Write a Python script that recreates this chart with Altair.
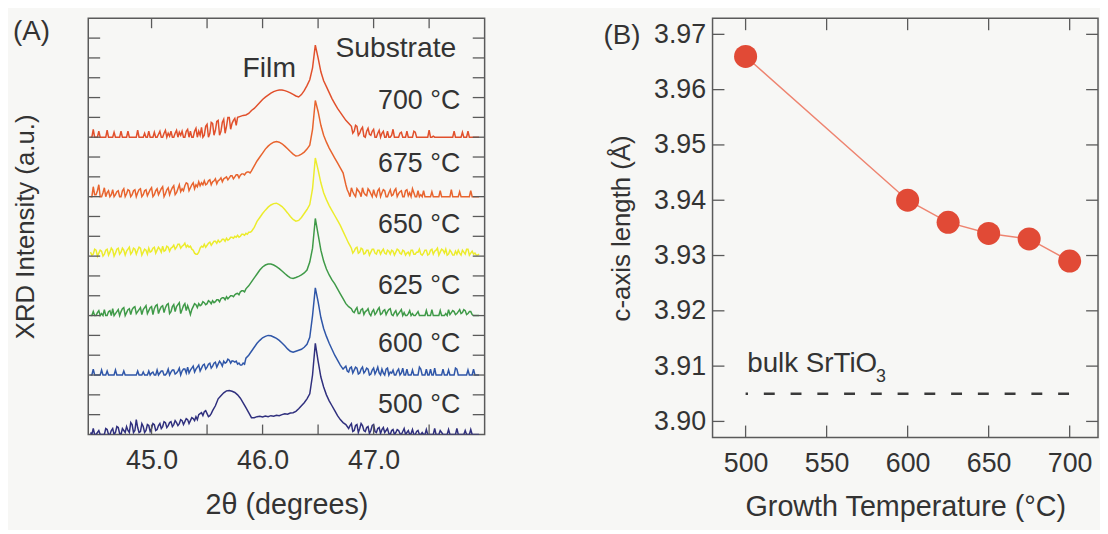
import altair as alt
import pandas as pd

# ---------------- Panel A data (XRD scans, offset stacked) ----------------
# main sampling grid (2θ, degrees) and half-step points used in the noisy stretches
two_theta = [round(44.45 + 0.025 * i, 3) for i in range(141)]
HALF = 0.0125

i700 = ([0,0.4,0,0.3,0,0,0.35,0,0,0,0,0.3,0,0,0,0,0,0.35,0,0] +
        [0,0.3,0,0.25,0,0.3,0,0.35,0.2,0.3,0,0.35,0.25,0.3,0,0.4,0.3,0,0.45,0.3] +
        [0.5,0.1,0.65,0.2,0.7,0.35,0.85,0.3,0.9,0.55,1.0,0.7,0.95,1.0,1.05,1.1,1.12,1.2,1.35,1.45] +
        [1.6,1.75,1.9,2.02,2.12,2.22,2.3,2.35,2.38,2.38,2.35,2.3,2.24,2.16,2.08,2.03,2.15,2.35,2.6,2.9] +
        [3.5,4.65,4.0,3.3,2.85,2.55,2.25,1.95,1.7,1.45,1.25,1.05,0.85,0.7,0.55,0.3,0.55,0.2,0.5,0] +
        [0.45,0.1,0.4,0,0.35,0.2,0,0.3,0,0.4,0,0,0.25,0,0.3,0,0,0.25,0,0] +
        [0,0,0.35,0,0,0,0,0,0,0,0,0.3,0,0,0.25,0,0.3,0,0,0,0])
m700_left = ([0,0,0,0,0,0,0,0,0.25,0, 0,0,0,0.3,0,0,0,0,0,0.2,
              0,0,0,0,0.15,0,0.2,0,0.05,0, 0.2,0,0.1,0,0.3,0,0,0.3,0,0.1,
              0,0.55,0,0.75,0.1,0.8,0.1,0.75,0.2,1.0,0.4,0.85,0.6])
m700_right = ([0.2,0.6,0.1,0.4,0.05,0.3,0.15,0.3,0,0.2, 0,0.3,0,0,0.1,0,0,0.2,0,0,
               0,0,0.3,0,0,0,0,0,0,0.05, 0,0,0,0,0,0,0,0,0,0, 0,0,0,0,0,0])

i675 = ([0,0.5,0.1,0.6,0,0.45,0.2,0,0.35,0.1,0.3,0,0.4,0.15,0.3,0.1,0.35,0.2,0.4,0.1] +
        [0.35,0.2,0.45,0.1,0.4,0.25,0.5,0.15,0.45,0.3,0.55,0.2,0.6,0.4,0.55,0.65,0.45,0.7,0.6,0.75] +
        [0.7,0.8,0.65,0.85,0.75,0.9,0.8,0.95,0.9,1.0,0.95,1.05,1.0,1.1,1.08,1.15,1.2,1.25,1.3,1.55] +
        [1.8,2.0,2.2,2.4,2.55,2.67,2.75,2.78,2.75,2.67,2.55,2.42,2.28,2.15,2.05,2.07,2.15,2.25,2.4,2.6] +
        [3.4,4.85,4.3,3.6,3.1,2.75,2.45,2.2,1.95,1.7,1.45,1.2,0.6,0.2,0.45,0.1,0.4,0.2,0.45,0.1] +
        [0.4,0.15,0.35,0,0.4,0.2,0.3,0,0.35,0.1,0.4,0.15,0.3,0,0.35,0.2,0.4,0,0.3,0.1] +
        [0.3,0,0,0.25,0,0,0.3,0,0,0,0.35,0,0,0.25,0,0,0,0.3,0,0,0])
m675_left = ([0,0.1,0.3,0,0.2,0,0.3,0.1,0,0.25, 0,0.3,0,0.35,0,0.3,0,0.35,0,0.3,
              0.05,0.35,0,0.3,0.1,0.4,0,0.35,0.1,0.45, 0.1,0.4,0.25,0.3,0.7,0.3,0.6,0.4,0.5,0.55,
              0.6,0.6,0.8,0.6,0.8,0.65,0.85,0.75,0.95,0.85, 1.05,0.9,1.1,0.95,1.15,1.1,1.25,1.2])
m675_right = ([0.35,0,0.25,0,0.3,0,0.2,0.05,0.3,0, 0.1,0.3,0,0.35,0,0.2,0.05,0.3,0,0.25,
               0,0.3,0.05,0,0.2,0,0,0,0,0, 0,0,0,0,0,0,0,0,0,0, 0,0,0,0,0,0,0,0])

i650 = ([0.2,0.1,0.3,0.15,0.25,0.1,0.35,0.2,0.3,0.15,0.4,0.2,0.3,0.25,0.45,0.2,0.35,0.3,0.4,0.2] +
        [0.3,0.4,0.25,0.45,0.3,0.35,0.5,0.3,0.45,0.4,0.55,0.45,0.6,0.5,0.65,0.55,0.5,0.3,0.1,0.2] +
        [0.5,0.6,0.55,0.7,0.65,0.75,0.8,0.75,0.85,0.9,0.85,0.95,1.0,1.05,1.0,1.1,1.15,1.2,1.25,1.45] +
        [1.75,1.95,2.15,2.32,2.47,2.58,2.65,2.67,2.6,2.5,2.35,2.18,2.0,1.85,1.76,1.8,1.95,2.15,2.35,2.6] +
        [3.4,4.95,4.35,3.7,3.2,2.85,2.55,2.3,2.05,1.8,1.55,1.25,0.95,0.65,0.4,0.25,0.45,0.2,0.35,0.15] +
        [0.3,0.2,0.35,0.1,0.3,0.25,0.15,0.3,0.1,0.25,0.2,0.3,0.1,0.25,0.15,0.05,0.3,0.1,0.2,0.1] +
        [0.15,0.3,0.1,0.35,0.25,0.4,0.2,0.3,0.35,0.1,0.2,0.05,0.1,0.15,0.3,0.1,0.35,0.15,0.1,0.05,0.1])
m650_left = ([0.05,0.35,0,0.3,0,0.3,0.05,0.4,0,0.35, 0.1,0.4,0.05,0.35,0.1,0.4,0.1,0.45,0.05,0.35,
              0.1,0.2,0.4,0.15,0.45,0.2,0.25,0.5,0.25,0.45, 0.35,0.6,0.4,0.55,0.45,0.45,0.35,0.15,0.1,0.4,
              0.45,0.45,0.65,0.55,0.75,0.65,0.7,0.85,0.75,0.8, 0.95,0.9,0.95,0.95,1.1,1.05,1.1,1.2])
m650_right = ([0.15,0.4,0.15,0.4,0.1,0.3,0.05,0.35,0.15,0.3, 0.1,0.35,0.1,0.25,0.3,0.05,0.35,0.15,0.3,0.05,
               0.2,0.3,0.1,0.2,0.35,0.05,0.3,0.05,0.3,0.1, 0.3,0.05,0.35,0.15,0.05,0.3,0.05,0.25,0.3,0.05,
               0.2,0.35,0.05,0.25,0.15,0.05])

i625 = ([0,0.2,0,0.25,0.1,0.3,0,0.25,0.35,0.1,0.3,0.2,0.4,0.15,0.35,0.3,0.45,0.2,0.4,0.3] +
        [0.5,0.25,0.45,0.35,0.55,0.3,0.5,0.4,0.6,0.2,0.55,0.45,0.65,0.3,0.6,0.5,0.05,0.45,0.55,0.6] +
        [0.55,0.65,0.6,0.7,0.75,0.7,0.8,0.85,0.9,0.95,0.92,1.0,1.05,1.12,1.2,1.25,1.35,1.5,1.7,1.9] +
        [2.1,2.3,2.45,2.55,2.6,2.6,2.55,2.47,2.37,2.25,2.12,2.0,1.9,1.87,1.92,1.98,2.05,2.15,2.3,2.7] +
        [3.4,4.9,4.1,3.3,2.75,2.35,2.05,1.8,1.6,1.35,1.1,0.85,0.6,0.45,0.35,0.15,0.4,0.1,0.35,0.2] +
        [0.35,0,0.3,0.15,0.4,0.1,0.3,0.2,0.35,0,0.25,0.1,0.3,0.15,0,0.25,0.1,0,0.2,0] +
        [0,0.25,0,0.3,0,0,0.25,0,0.1,0.3,0.15,0.2,0.1,0.3,0.15,0.25,0.1,0.2,0,0,0])
m625_left = ([0,0,0.15,0,0,0,0.2,0,0,0.2, 0,0.35,0,0.3,0.05,0.4,0.1,0.3,0.05,0.4,
              0.1,0.4,0.05,0.5,0.1,0.45,0.15,0.55,0.1,0.45, 0.2,0.55,0.1,0.5,0.25,0.3,0.3,0.6,0.4,0.5,
              0.7,0.55,0.75,0.6,0.65,0.8,0.7,0.9,0.8,0.85, 1.0,0.95,1.1,1.05,1.25,1.2])
m625_right = ([0.2,0.3,0.1,0.3,0.05,0.25,0.1,0.2,0.05,0.3, 0.05,0.25,0.05,0.3,0.05,0.15,0,0.2,0,0,
               0.1,0,0,0.1,0,0,0,0,0,0, 0,0,0,0,0,0.05,0.25,0.05,0.2,0.1, 0.3,0.05,0.2,0.05,0,0])

i600 = ([0,0.3,0,0,0.25,0,0.2,0,0,0.25,0,0,0.2,0,0,0,0,0.2,0,0.15] +
        [0,0.2,0.1,0,0.25,0.1,0.2,0,0.3,0.15,0.25,0.1,0.35,0.2,0.3,0.4,0.25,0.45,0.3,0.5] +
        [0.35,0.55,0.4,0.6,0.45,0.65,0.55,0.6,0.7,0.65,0.75,0.72,0.65,0.55,0.5,0.6,0.85,1.0,1.2,1.4] +
        [1.6,1.75,1.88,1.95,2.0,1.98,1.92,1.85,1.75,1.62,1.48,1.32,1.2,1.15,1.2,1.25,1.3,1.4,1.55,1.9] +
        [3.0,4.4,3.7,2.9,2.35,1.95,1.6,1.3,1.0,0.75,0.5,0.3,0.45,0.15,0.4,0.25,0.35,0.1,0.4,0.2] +
        [0.3,0.05,0.35,0.2,0.1,0.3,0,0.35,0.15,0.25,0,0.3,0.1,0,0.3,0,0.25,0,0,0.3] +
        [0,0.3,0,0,0.35,0,0,0.3,0,0.25,0,0,0.3,0,0,0,0.25,0,0.3,0,0])
m600_left = ([0,0,0,0,0,0,0,0,0,0, 0,0,0,0,0,0,0,0,0,0,
              0,0,0.15,0,0,0.2,0,0.1,0,0.25, 0.05,0.2,0,0.3,0.1,0.1,0.35,0.15,0.4,0.2,
              0.5,0.3,0.55,0.35,0.6,0.4,0.7,0.45,0.6,0.8, 0.6,0.7,0.7,0.6,0.5,0.55])
m600_right = ([0.2,0.35,0.1,0.4,0.05,0.3,0.1,0.35,0,0.25, 0.05,0.4,0,0.1,0.3,0,0.1,0,0.2,0,
               0.35,0,0,0,0,0,0.4,0,0,0, 0.3,0,0,0,0,0,0,0,0,0.35, 0,0,0,0,0,0,0,0])

i500 = ([0.1,0.3,0,0.2,0,0,0.25,0,0.3,0.1,0.35,0,0.2,0.4,0.1,0.5,0.2,0.35,0.15,0.4] +
        [0.2,0.45,0.3,0.5,0.25,0.55,0.4,0.6,0.45,0.65,0.5,0.6,0.55,0.7,0.65,0.75,0.7,0.8,0.9,1.0] +
        [1.1,1.15,1.05,0.95,1.2,1.45,1.8,1.95,2.1,2.2,2.22,2.18,2.12,2.0,1.83,1.6,1.35,1.1,0.85,0.85] +
        [0.9,0.92,0.88,0.93,0.9,0.95,0.92,0.97,0.95,1.0,1.05,1.02,1.08,1.1,1.17,1.3,1.45,1.6,1.8,2.05] +
        [3.0,4.6,3.7,2.9,2.4,2.0,1.7,1.45,1.2,0.95,0.75,0.6,0.5,0.3,0.55,0.2,0.5,0.3,0.45,0.15] +
        [0.4,0.2,0.5,0.1,0.35,0.25,0.1,0.3,0,0.25,0.1,0.2,0,0.3,0.1,0,0.25,0,0.2,0] +
        [0,0.25,0,0,0.3,0,0.2,0,0,0.25,0,0,0.3,0,0,0.2,0,0.25,0,0,0])
m500_left = ([0,0,0.1,0,0,0.3,0,0.2,0,0.4, 0.05,0.3,0.1,0.2,0.6,0.1,0.75,0.1,0.55,0.1,
              0.5,0.15,0.55,0.2,0.45,0.3,0.65,0.35,0.6,0.4, 0.7,0.45,0.75,0.5,0.8,0.55,0.85,0.7,0.75,1.05,
              0.95,1.2,0.9,1.05])
m500_right = ([0.45,0.15,0.45,0.1,0.55,0.2,0.35,0.05,0.45,0.15, 0.3,0.05,0.35,0.2,0.05,0.2,0,0.25,0.05,0.15,
               0,0.2,0.05,0,0.15,0,0.1,0,0,0, 0,0,0,0.1,0,0,0,0,0,0, 0,0,0,0,0,0,0])

temps = ["500", "600", "625", "650", "675", "700"]
scans = [i500, i600, i625, i650, i675, i700]
mids = [(m500_left, 0, m500_right, 93), (m600_left, 0, m600_right, 92), (m625_left, 0, m625_right, 94),
        (m650_left, 0, m650_right, 94), (m675_left, 0, m675_right, 92), (m700_left, 0, m700_right, 94)]
offsets = [0, 3, 6, 9, 12, 15]
colors = ["#30307e", "#2f56a8", "#3f9a48", "#ecec2c", "#e8642e", "#e1502c"]
label_y = [1.5, 4.55, 7.5, 10.55, 13.65, 16.8]
label_text = ["500 °C", "600 °C", "625 °C", "650 °C", "675 °C", "700 °C"]

# ---------------- Panel B data ----------------
growth_T = [500, 600, 625, 650, 675, 700]
c_axis = [3.966, 3.940, 3.936, 3.934, 3.933, 3.929]
bulk_sto = 3.905

FONT = "Liberation Sans"
TXT = "#333333"
FRAME = "#5a5a5a"

rows = []
for t, s, off, (ml, sl, mr, sr) in zip(temps, scans, offsets, mids):
    assert len(s) == len(two_theta), (t, len(s))
    assert sr + len(mr) == 140, (t, "right", sr + len(mr))
    for x, v in zip(two_theta, s):
        rows.append({"x": x, "y": v + off, "temp": t})
    for j, v in enumerate(ml):
        rows.append({"x": round(two_theta[sl + j] + HALF, 4), "y": v + off, "temp": t})
    for j, v in enumerate(mr):
        rows.append({"x": round(two_theta[sr + j] + HALF, 4), "y": v + off, "temp": t})
dfA = pd.DataFrame(rows).sort_values(["temp", "x"]).reset_index(drop=True)

WA, HA = 400, 420
xA = alt.Scale(domain=[44.43, 48.0], nice=False, zero=False)
yA = alt.Scale(domain=[0, 21], nice=False, zero=False)
XA = alt.X("x:Q", scale=xA, axis=alt.Axis(values=[45, 46, 47], format=".1f", ticks=False, domain=False,
                                           grid=False, labelFontSize=27, labelPadding=13,
                                           title="2θ (degrees)", titleFontSize=29, titlePadding=18))
YA = alt.Y("y:Q", scale=yA, axis=alt.Axis(labels=False, ticks=False, domain=False, grid=False,
                                           title="XRD Intensity (a.u.)", titleFontSize=26, titlePadding=50))

linesA = alt.Chart(dfA).mark_line(strokeWidth=1.5, clip=True).encode(
    x=XA, y=YA,
    color=alt.Color("temp:N", scale=alt.Scale(domain=temps, range=colors), legend=None),
    detail="temp:N", order="x:Q")

labA = pd.DataFrame({"x": [47.78] * 6, "y": label_y, "t": label_text})
labelsA = alt.Chart(labA).mark_text(align="right", baseline="middle", fontSize=27, color=TXT).encode(
    x=XA, y=YA, text="t:N")

annA = pd.DataFrame({"x": [46.06, 47.2], "y": [18.5, 19.5], "t": ["Film", "Substrate"]})
annotA = alt.Chart(annA).mark_text(align="center", baseline="middle", fontSize=28.5, color=TXT).encode(
    x=XA, y=YA, text="t:N")

panel_A_tag = alt.Chart(pd.DataFrame({"t": ["(A)"]})).mark_text(
    align="left", baseline="middle", fontSize=28, color=TXT).encode(
    x=alt.value(-76), y=alt.value(14), text="t:N")

xtA = pd.DataFrame({"x": [45.0, 45.5, 46.0, 46.5, 47.0, 47.5]})
ytA = pd.DataFrame({"y": [1, 2, 3, 4, 5, 6, 7, 8, 9, 10, 11, 12, 13, 14, 15, 16, 17, 18, 19, 20]})
tk = dict(color=FRAME, strokeWidth=1.3)
ticksA = [
    alt.Chart(xtA).mark_rule(**tk).encode(x=XA, y=alt.value(HA), y2=alt.value(HA - 10)),
    alt.Chart(xtA).mark_rule(**tk).encode(x=XA, y=alt.value(0), y2=alt.value(10)),
    alt.Chart(ytA).mark_rule(**tk).encode(y=YA, x=alt.value(0), x2=alt.value(12)),
    alt.Chart(ytA).mark_rule(**tk).encode(y=YA, x=alt.value(WA - 12), x2=alt.value(WA)),
]

panelA = alt.layer(linesA, labelsA, annotA, panel_A_tag, *ticksA).properties(width=WA, height=HA)

# ---------------- Panel B ----------------
WB, HB = 389, 423
xB = alt.Scale(domain=[479.6, 717.5], nice=False, zero=False)
yB = alt.Scale(domain=[3.8971, 3.9729], nice=False, zero=False)
XB = alt.X("x:Q", scale=xB, axis=alt.Axis(values=[500, 550, 600, 650, 700], ticks=False, domain=False,
                                           grid=False, labelFontSize=27, labelPadding=13,
                                           title="Growth Temperature (°C)", titleFontSize=29, titlePadding=17))
YB = alt.Y("y:Q", scale=yB, axis=alt.Axis(values=[3.90, 3.91, 3.92, 3.93, 3.94, 3.95, 3.96, 3.97],
                                           format=".2f", ticks=False, domain=False, grid=False,
                                           labelFontSize=27, labelPadding=7,
                                           title="c-axis length (Å)", titleFontSize=26, titlePadding=19))

dfB = pd.DataFrame({"x": growth_T, "y": c_axis})
lineB = alt.Chart(dfB).mark_line(color="#ee8470", strokeWidth=1.5).encode(x=XB, y=YB)
ptsB = alt.Chart(dfB).mark_circle(size=540, color="#e14a36", opacity=1).encode(x=XB, y=YB)

bulk = pd.DataFrame({"x": [500], "x2": [700], "y": [bulk_sto]})
bulkB = alt.Chart(bulk).mark_rule(color="#3a3a3a", strokeWidth=2.5, strokeDash=[11, 16],
                                  strokeDashOffset=8.6).encode(x=XB, x2="x2:Q", y=YB)

bulk_txt = alt.Chart(pd.DataFrame({"x": [501], "y": [3.9103], "t": ["bulk SrTiO"]})).mark_text(
    align="left", baseline="middle", fontSize=28, color=TXT).encode(x=XB, y=YB, text="t:N")
bulk_sub = alt.Chart(pd.DataFrame({"x": [580.5], "y": [3.908], "t": ["3"]})).mark_text(
    align="left", baseline="middle", fontSize=18, color=TXT).encode(x=XB, y=YB, text="t:N")

panel_B_tag = alt.Chart(pd.DataFrame({"t": ["(B)"]})).mark_text(
    align="left", baseline="middle", fontSize=28, color=TXT).encode(
    x=alt.value(-110), y=alt.value(18), text="t:N")

xtB = pd.DataFrame({"x": [500, 550, 600, 650, 700]})
ytB = pd.DataFrame({"y": [3.90, 3.91, 3.92, 3.93, 3.94, 3.95, 3.96, 3.97]})
ticksB = [
    alt.Chart(xtB).mark_rule(**tk).encode(x=XB, y=alt.value(HB), y2=alt.value(HB - 12)),
    alt.Chart(xtB).mark_rule(**tk).encode(x=XB, y=alt.value(0), y2=alt.value(12)),
    alt.Chart(ytB).mark_rule(**tk).encode(y=YB, x=alt.value(0), x2=alt.value(12)),
    alt.Chart(ytB).mark_rule(**tk).encode(y=YB, x=alt.value(WB - 12), x2=alt.value(WB)),
]

panelB = alt.layer(lineB, bulkB, ptsB, bulk_txt, bulk_sub, panel_B_tag, *ticksB).properties(width=WB, height=HB)

chart = alt.hconcat(panelA, panelB, spacing=117).properties(
    background="#f7f7f5",
    padding={"left": 4, "top": 6, "right": 0, "bottom": 5},
).configure_view(stroke=FRAME, strokeWidth=1.5).configure_axis(
    labelFont=FONT, titleFont=FONT, labelColor=TXT, titleColor=TXT, titleFontWeight="normal"
).configure_text(font=FONT)

chart.save("out.html", embed_options={"renderer": "svg", "actions": False})
